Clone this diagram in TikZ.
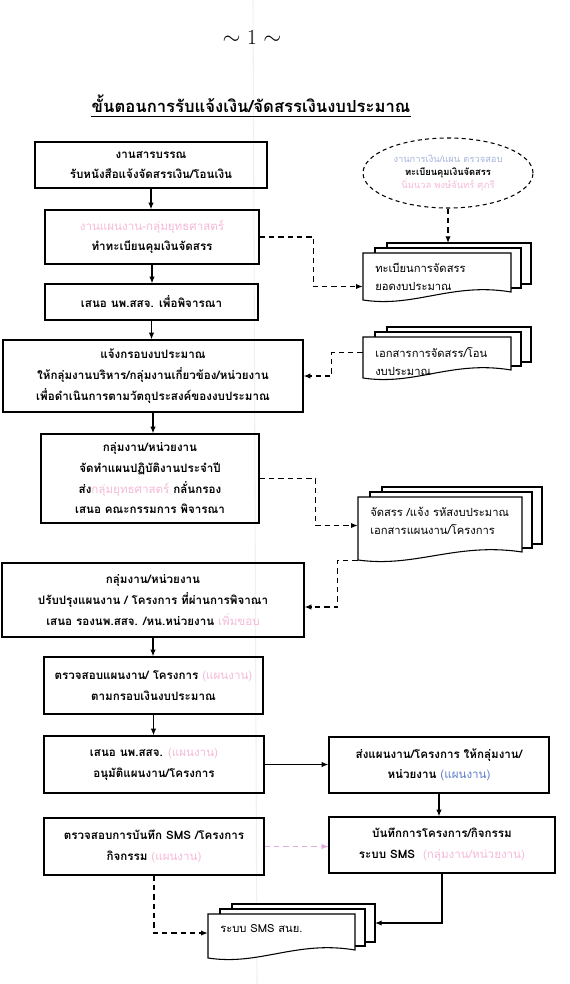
\documentclass[tikz,border=0pt]{standalone}
\usepackage{fontspec}
\newfontfamily\thai[Script=Thai]{Loma}
\usetikzlibrary{shapes.geometric,arrows.meta,calc}
\definecolor{pinktxt}{RGB}{245,185,215}
\definecolor{bluetxt}{RGB}{165,180,220}
\definecolor{bluelbl}{RGB}{95,125,200}
\definecolor{pinkline}{RGB}{225,170,225}
\tikzset{
  box/.style={draw,line width=0.9pt,align=center,inner sep=2pt,font=\thai\bfseries\fontsize{8.7}{15.5}\selectfont},
  wh/.style 2 args={minimum width={(#1)*0.75pt},minimum height={(#2)*0.75pt}},
  page/.style={draw,fill=white,line width=0.8pt},
  doctext/.style={align=left,inner sep=0pt,font=\thai\fontsize{8.4}{13.5}\selectfont},
  ell/.style={ellipse,draw,line width=0.8pt,dash pattern=on 3pt off 2.5pt,align=center,inner sep=0pt,font=\thai\bfseries\fontsize{7}{10}\selectfont},
  flow/.style={-{Latex[length=5pt,width=4pt]},line width=0.9pt},
  dashflow/.style={flow,dash pattern=on 4pt off 3pt},
}
% stacked document: name, left, top, right, bottom, text
\newcommand\docstack[6]{%
  \draw[page] (#2+24,#3-10) rectangle (#4+20,#5-16);
  \draw[page] (#2+12,#3-5) rectangle (#4+10,#5-12);
  \draw[page] (#2,#5) -- (#2,#3) -- (#4,#3) -- (#4,#5-8)
    .. controls ({#4-(#4-#2)*0.4},#5-18) and ({#2+(#4-#2)*0.35},#5+8) .. (#2,#5) -- cycle;
  \begin{scope}
    \clip (#2,#5) -- (#2,#3) -- (#4,#3) -- (#4,#5-8)
      .. controls ({#4-(#4-#2)*0.4},#5-18) and ({#2+(#4-#2)*0.35},#5+8) .. (#2,#5) -- cycle;
    \node[doctext,anchor=north west] (#1-txt) at (#2+12,#3+10) {#6};
  \end{scope}
  \node[inner sep=0pt,wh={#4-#2}{#5-#3}] (#1) at ({(#2+#4)/2},{(#3+#5)/2}) {};
  \coordinate (#1-top) at (#2+24,#3-10);
  \coordinate (#1-r) at (#4+20,{(#3+#5)/2-13});
}
\begin{document}
\begin{tikzpicture}[x=0.75pt,y=-0.75pt]
\useasboundingbox (0,0) rectangle (570,984);
\draw[gray!12,line width=0.8pt] (253,0) -- (257,984);

\node[font=\fontsize{16}{20}\selectfont] (pagenum) at (252,37) {$\sim$ 1 $\sim$};
\node[inner sep=0pt,font=\thai\bfseries\fontsize{12.5}{16}\selectfont] (title) at (251,104) {ขั้นตอนการรับแจ้งเงิน/จัดสรรเงินงบประมาณ};
\draw[line width=0.8pt] ([yshift=-3pt]title.base west) -- ([yshift=-3pt]title.base east);

% main column
\node[box,wh={232}{46}] (sarabun) at (151,165) {งานสารบรรณ\\รับหนังสือแจ้งจัดสรรเงิน/โอนเงิน};
\node[box,wh={214}{54}] (tabian) at (152,237) {{\color{pinktxt}\mdseries งานแผนงาน-กลุ่มยุทธศาสตร์}\\ทำทะเบียนคุมเงินจัดสรร};
\node[box,wh={213}{36}] (seno) at (151.5,302) {เสนอ นพ.สสจ. เพื่อพิจารณา};
\node[box,wh={300}{72}] (kronob) at (153,376) {แจ้งกรอบงบประมาณ\\ให้กลุ่มงานบริหาร/กลุ่มงานเกี่ยวข้อง/หน่วยงาน\\เพื่อดำเนินการตามวัตถุประสงค์ของงบประมาณ};
\node[box,wh={218}{89}] (phaen) at (150,478.5) {กลุ่มงาน/หน่วยงาน\\จัดทำแผนปฏิบัติงานประจำปี\\ส่ง{\color{pinktxt}\mdseries กลุ่มยุทธศาสตร์} กลั่นกรอง\\เสนอ คณะกรรมการ พิจารณา};
\node[box,wh={302}{74}] (prubprung) at (153,600) {กลุ่มงาน/หน่วยงาน\\ปรับปรุงแผนงาน / โครงการ ที่ผ่านการพิจาณา\\เสนอ รองนพ.สสจ. /หน.หน่วยงาน {\color{pinktxt}\mdseries เพิ่มขอบ}};
\node[box,wh={219}{57}] (truatphaen) at (153.5,685.5) {ตรวจสอบแผนงาน/ โครงการ {\color{pinktxt}\mdseries(แผนงาน)}\\ตามกรอบเงินงบประมาณ};
\node[box,wh={220}{57}] (anumat) at (154,764.5) {เสนอ นพ.สสจ. {\color{pinktxt}\mdseries(แผนงาน)}\\อนุมัติแผนงาน/โครงการ};
\node[box,wh={220}{57}] (truatsms) at (154,846.5) {ตรวจสอบการบันทึก SMS /โครงการ\\กิจกรรม {\color{pinktxt}\mdseries(แผนงาน)}};

% right column
\node[box,wh={220}{56}] (songphaen) at (439,765) {ส่งแผนงาน/โครงการ ให้กลุ่มงาน/\\หน่วยงาน {\color{bluelbl}\mdseries(แผนงาน)}};
\node[box,wh={226}{56}] (bantuek) at (442,845) {บันทึกการโครงการ/กิจกรรม\\ระบบ SMS\ \ {\color{pinktxt}\mdseries(กลุ่มงาน/หน่วยงาน)}};
\node[ell,wh={170}{70}] (tabianell) at (448,173) {{\color{bluetxt}\mdseries งานการเงิน/แผน ตรวจสอบ}\\ทะเบียนคุมเงินจัดสรร\\{\color{pinktxt}\mdseries นิ่มนวล พงษ์จันทร์ ศุภรี}};

\docstack{reg}{363}{253}{511}{300}{ทะเบียนการจัดสรร\\ยอดงบประมาณ}
\docstack{okasan}{363}{337}{511}{378}{เอกสารการจัดสรร/โอน\\งบประมาณ}
\docstack{rahat}{358}{497}{522}{560}{จัดสรร /แจ้ง รหัสงบประมาณ\\เอกสารแผนงาน/โครงการ}
\docstack{sms}{208}{914}{355}{958}{ระบบ SMS สนย.}

% solid flow
\draw[flow] (sarabun.south) -- (sarabun.south |- tabian.north);
\draw[flow] (tabian.south) -- (tabian.south |- seno.north);
\draw[flow] (seno.south) -- (seno.south |- kronob.north);
\draw[flow] (kronob.south) -- (kronob.south |- phaen.north);
\draw[flow] (prubprung.south) -- (prubprung.south |- truatphaen.north);
\draw[flow] (truatphaen.south) -- (truatphaen.south |- anumat.north);
\draw[flow] (anumat.east) -- (anumat.east -| songphaen.west);
\draw[flow] (songphaen.south) -- (songphaen.south |- bantuek.north);
\draw[flow] (bantuek.south) |- (sms-r);

% dashed flow
\draw[dashflow] (tabianell.south) -- (tabianell.south |- reg-top);
\draw[dashflow] (tabian.east) -- ++(54,0) |- ($(reg.west)+(0,10)$);
\draw[dashflow] ($(okasan.west)+(0,-5)$) -- ++(-31,0) |- (kronob.east);
\draw[dashflow] (phaen.east) -- ++(56,0) |- ($(rahat.west)+(0,-3)$);
\draw[dashflow] (rahat.south west) -- ++(-20,0) |- ($(prubprung.east)+(0,7)$);
\draw[dashflow] (truatsms.south) |- ($(sms.west)+(0,-3)$);
\draw[dashflow,pinkline,line width=0.6pt] (truatsms.east) -- (truatsms.east -| bantuek.west);
\end{tikzpicture}
\end{document}
